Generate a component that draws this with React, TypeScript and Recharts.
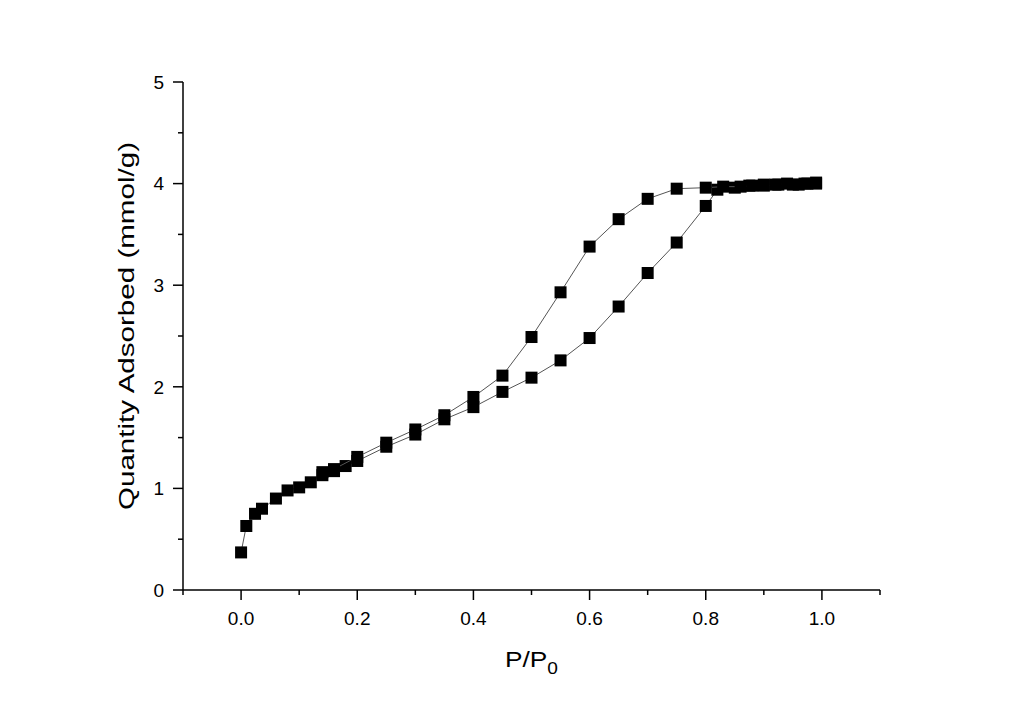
import { Scatter, ScatterChart, XAxis, YAxis } from 'recharts'

// adsorption branch (P/P0, mmol/g)
const adsP = [0.0, 0.009, 0.024, 0.036, 0.06, 0.08, 0.1, 0.12, 0.14, 0.16, 0.18, 0.2, 0.25, 0.3, 0.35, 0.4, 0.45, 0.5, 0.55, 0.6, 0.65, 0.7, 0.75, 0.8, 0.82, 0.85, 0.875, 0.9, 0.925, 0.95, 0.97, 0.99]
const adsQ = [0.37, 0.63, 0.75, 0.8, 0.9, 0.98, 1.01, 1.06, 1.13, 1.17, 1.22, 1.27, 1.41, 1.53, 1.68, 1.8, 1.95, 2.09, 2.26, 2.48, 2.79, 3.12, 3.42, 3.78, 3.94, 3.96, 3.98, 3.99, 3.99, 3.99, 4.0, 4.01]

// desorption branch
const desP = [0.99, 0.975, 0.96, 0.94, 0.92, 0.9, 0.88, 0.86, 0.83, 0.8, 0.75, 0.7, 0.65, 0.6, 0.55, 0.5, 0.45, 0.4, 0.35, 0.3, 0.25, 0.2, 0.16, 0.14]
const desQ = [4.0, 4.0, 3.99, 4.0, 3.99, 3.98, 3.98, 3.97, 3.97, 3.96, 3.95, 3.85, 3.65, 3.38, 2.93, 2.49, 2.11, 1.9, 1.72, 1.58, 1.45, 1.31, 1.19, 1.16]

const xTicks = [-0.1, 0, 0.1, 0.2, 0.3, 0.4, 0.5, 0.6, 0.7, 0.8, 0.9, 1.0, 1.1]
const xLabels = [0, 0.2, 0.4, 0.6, 0.8, 1.0]
const yTicks = [0, 0.5, 1, 1.5, 2, 2.5, 3, 3.5, 4, 4.5, 5]
const yLabels = [0, 1, 2, 3, 4, 5]

const ads = adsP.map((x, i) => ({ x, y: adsQ[i] }))
const des = desP.map((x, i) => ({ x, y: desQ[i] }))

const FONT = 'Arial, "Liberation Sans", sans-serif'
const isIn = (list: number[], v: number) => list.some((t) => Math.abs(t - v) < 1e-6)

function Square({ cx, cy }: any) {
  return <rect x={cx - 6} y={cy - 6} width={12} height={12} fill="#000" />
}

function XTick({ x, y, payload }: any) {
  const major = isIn(xLabels, payload.value)
  return (
    <g>
      <line x1={x} y1={y} x2={x} y2={y + (major ? 10 : 5)} stroke="#000" strokeWidth={1.5} />
      {major && (
        <text x={x} y={y + 35} textAnchor="middle" fontSize={19} fontFamily={FONT} fill="#000">
          {Number(payload.value).toFixed(1)}
        </text>
      )}
    </g>
  )
}

function YTick({ x, y, payload }: any) {
  const major = isIn(yLabels, payload.value)
  return (
    <g>
      <line x1={x} y1={y} x2={x - (major ? 10 : 5)} y2={y} stroke="#000" strokeWidth={1.5} />
      {major && (
        <text x={x - 19} y={y} dy="0.36em" textAnchor="end" fontSize={19} fontFamily={FONT} fill="#000">
          {String(payload.value)}
        </text>
      )}
    </g>
  )
}

function XLabel({ viewBox }: any) {
  const cx = viewBox.x + viewBox.width / 2
  return (
    <text x={cx} y={viewBox.y + 77} textAnchor="middle" fontSize={22} fontFamily={FONT} fill="#000"
      textLength={53} lengthAdjust="spacingAndGlyphs">
      <tspan>P/P</tspan>
      <tspan fontSize={16} dy={7}>0</tspan>
    </text>
  )
}

function YLabel({ viewBox }: any) {
  const x = viewBox.x + viewBox.width - 49
  const y = viewBox.y + viewBox.height / 2 - 10
  return (
    <text x={x} y={y} transform={`rotate(-90 ${x} ${y})`} textAnchor="middle" fontSize={22}
      fontFamily={FONT} fill="#000" textLength={368} lengthAdjust="spacingAndGlyphs">
      Quantity Adsorbed (mmol/g)
    </text>
  )
}

export default function App() {
  return (
    <div style={{ position: 'absolute', left: 0, top: 0, background: '#fff' }}>
      <ScatterChart width={1024} height={709} margin={{ top: 82, right: 144, bottom: 0, left: 0 }}>
        <XAxis
          type="number"
          dataKey="x"
          domain={[-0.1, 1.1]}
          ticks={xTicks}
          interval={0}
          tick={<XTick />}
          tickLine={false}
          tickSize={0}
          tickMargin={0}
          height={119}
          axisLine={{ stroke: '#000', strokeWidth: 1.5 }}
          label={{ content: <XLabel /> }}
        />
        <YAxis
          type="number"
          dataKey="y"
          domain={[0, 5]}
          ticks={yTicks}
          interval={0}
          tick={<YTick />}
          tickLine={false}
          tickSize={0}
          tickMargin={0}
          width={183}
          axisLine={{ stroke: '#000', strokeWidth: 1.5 }}
          label={{ content: <YLabel /> }}
        />
        <Scatter data={ads} shape={<Square />} fill="#000" line={{ stroke: '#555', strokeWidth: 1 }} isAnimationActive={false} />
        <Scatter data={des} shape={<Square />} fill="#000" line={{ stroke: '#555', strokeWidth: 1 }} isAnimationActive={false} />
      </ScatterChart>
    </div>
  )
}
